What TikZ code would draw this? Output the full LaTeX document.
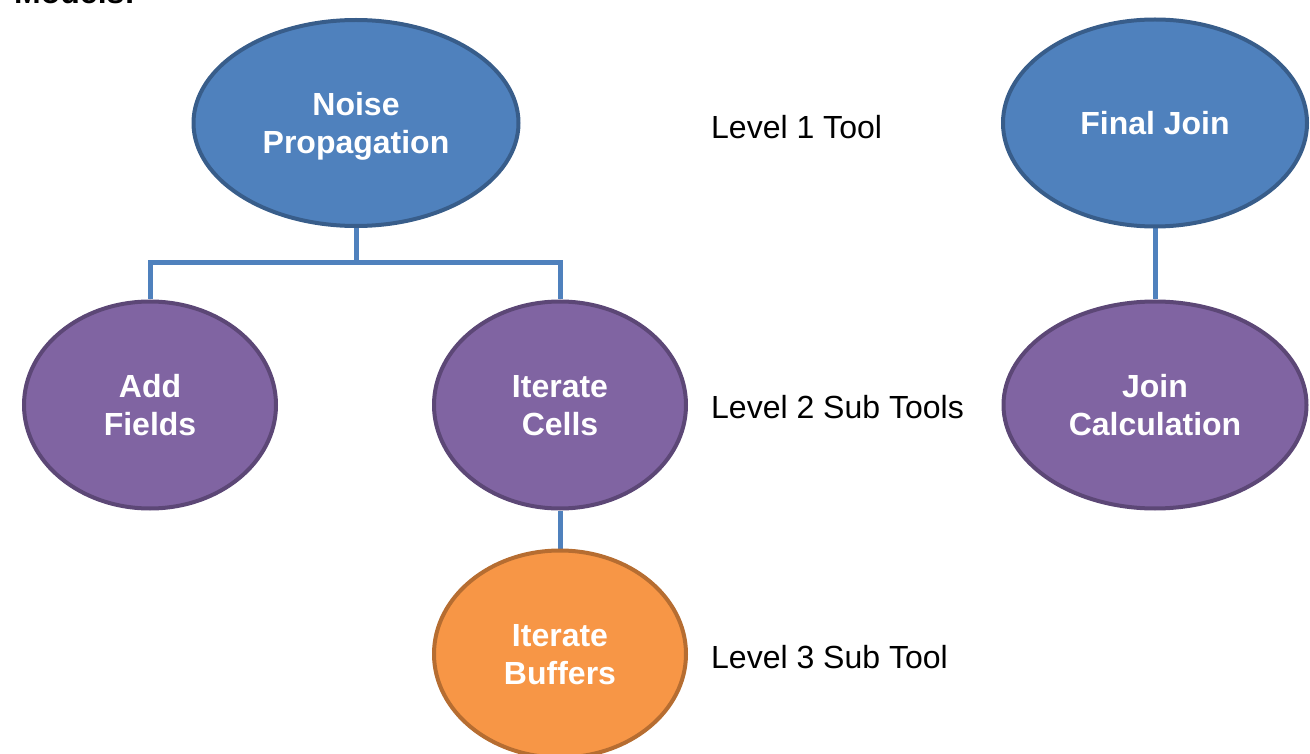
\documentclass[tikz,border=0pt]{standalone}
\usepackage{fontspec}
\setmainfont{Liberation Sans}
\usetikzlibrary{shapes.geometric,backgrounds}

\definecolor{blueFill}{HTML}{4F81BD}
\definecolor{blueEdge}{HTML}{385D8A}
\definecolor{purpleFill}{HTML}{8064A2}
\definecolor{purpleEdge}{HTML}{5C4776}
\definecolor{orangeFill}{HTML}{F79646}
\definecolor{orangeEdge}{HTML}{B66D31}

\tikzset{
  toolnode/.style={ellipse, inner sep=0pt, line width=4pt, text=white,
    align=center, text depth=0pt, font=\fontsize{32}{38}\selectfont\bfseries},
  lvlone/.style={toolnode, fill=blueFill, draw=blueEdge},
  lvltwo/.style={toolnode, fill=purpleFill, draw=purpleEdge},
  lvlthree/.style={toolnode, fill=orangeFill, draw=orangeEdge},
  conn/.style={draw=blueFill, line width=5pt},
  levellabel/.style={anchor=west, inner sep=0pt, font=\fontsize{32}{38}\selectfont},
}

\begin{document}
\begin{tikzpicture}[x=1pt, y=-1pt]
  \useasboundingbox (0,0) rectangle (1310,754);
  \clip (0,0) rectangle (1310,754);

  % heading, mostly above the page edge
  \node[anchor=base west, inner sep=0pt, font=\fontsize{32}{38}\selectfont\bfseries]
    (heading) at (14,4) {Models:};

  % level 1 tools
  \node[lvlone, minimum width=325pt, minimum height=206pt] (np) at (356,123) {Noise\\Propagation};
  \node[lvlone, minimum width=304pt, minimum height=207pt] (fj) at (1155,123) {Final Join};

  % level 2 sub tools
  \node[lvltwo, minimum width=252pt, minimum height=207pt] (af) at (150,405) {Add\\Fields};
  \node[lvltwo, minimum width=252pt, minimum height=207pt] (ic) at (560,405) {Iterate\\Cells};
  \node[lvltwo, minimum width=303pt, minimum height=207pt] (jc) at (1155,405) {Join\\Calculation};

  % level 3 sub tool
  \node[lvlthree, minimum width=252pt, minimum height=207pt] (ib) at (560,654) {Iterate\\Buffers};

  % level captions
  \node[levellabel] (l1) at (711,127) {Level 1 Tool};
  \node[levellabel] (l2) at (711,407) {Level 2 Sub Tools};
  \node[levellabel] (l3) at (711,657) {Level 3 Sub Tool};

  % connectors
  \begin{scope}[on background layer]
    \coordinate (bus) at (356,263);
    \draw[conn] (np.south) -- (bus) -| (af.north);
    \draw[conn] (bus) -| (ic.north);
    \draw[conn] (ic.south) -- (ib.north);
    \draw[conn] (fj.south) -- (jc.north);
  \end{scope}
\end{tikzpicture}
\end{document}
